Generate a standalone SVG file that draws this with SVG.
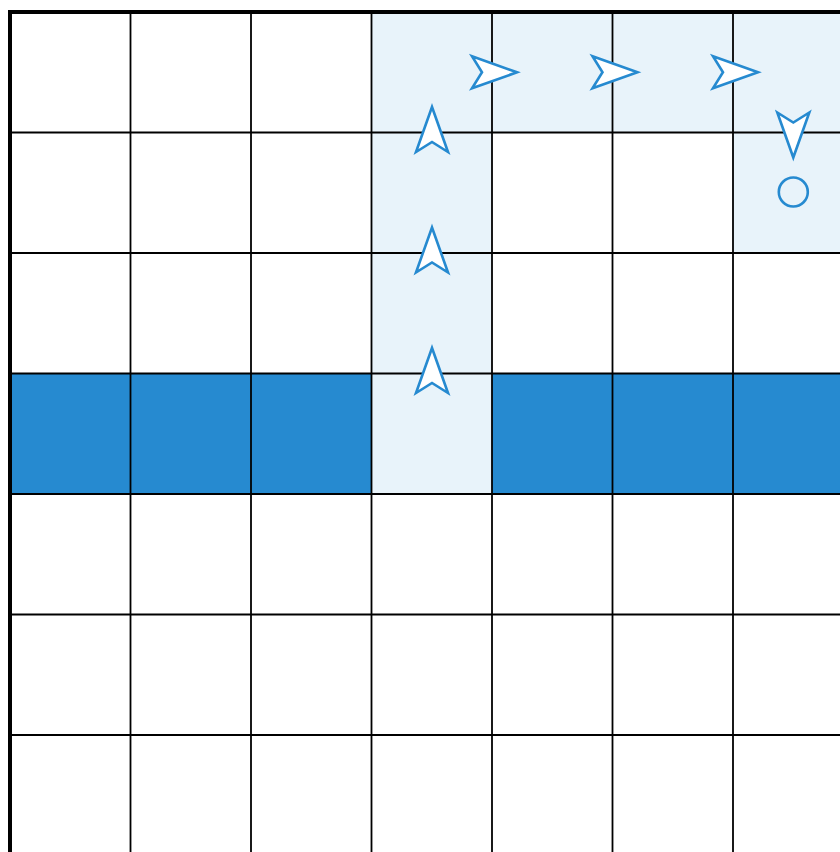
<svg xmlns="http://www.w3.org/2000/svg" width="840" height="852" viewBox="0 0 840 852">
<style>
.light{fill:#E8F3FA}
.dark{fill:#268AD0}
.grid line{stroke:#000;stroke-width:1.8}
.border{stroke:#000;stroke-width:4;fill:none}
.arrow{fill:#fff;stroke:#268AD0;stroke-width:2.6;stroke-linejoin:miter}
.goal{fill:none;stroke:#268AD0;stroke-width:2.6}
</style>
<defs>
<path id="arr" d="M25,0 L-20,-16 L-10,0 L-20,16 Z"/>
</defs>
<rect width="840" height="852" fill="#fff"/>
<g id="cells">
<rect class="light" x="371.5" y="12" width="120.5" height="482"/>
<rect class="light" x="492" y="12" width="348" height="120.5"/>
<rect class="light" x="733" y="132.5" width="107" height="120.5"/>
<rect class="dark" x="10" y="373.5" width="361.5" height="120.5"/>
<rect class="dark" x="492" y="373.5" width="348" height="120.5"/>
</g>
<g class="grid">
<line x1="130.5" y1="12" x2="130.5" y2="852"/>
<line x1="251" y1="12" x2="251" y2="852"/>
<line x1="371.5" y1="12" x2="371.5" y2="852"/>
<line x1="492" y1="12" x2="492" y2="852"/>
<line x1="612.5" y1="12" x2="612.5" y2="852"/>
<line x1="733" y1="12" x2="733" y2="852"/>
<line x1="10" y1="132.5" x2="840" y2="132.5"/>
<line x1="10" y1="253" x2="840" y2="253"/>
<line x1="10" y1="373.5" x2="840" y2="373.5"/>
<line x1="10" y1="494" x2="840" y2="494"/>
<line x1="10" y1="614.5" x2="840" y2="614.5"/>
<line x1="10" y1="735" x2="840" y2="735"/>
</g>
<path class="border" d="M10,852 L10,12 L840,12"/>
<g id="path">
<use href="#arr" class="arrow" transform="translate(432,132) rotate(-90)"/>
<use href="#arr" class="arrow" transform="translate(432,252.5) rotate(-90)"/>
<use href="#arr" class="arrow" transform="translate(432,373) rotate(-90)"/>
<use href="#arr" class="arrow" transform="translate(492,72.3)"/>
<use href="#arr" class="arrow" transform="translate(612.5,72.3)"/>
<use href="#arr" class="arrow" transform="translate(733,72.3)"/>
<use href="#arr" class="arrow" transform="translate(793.3,132.5) rotate(90)"/>
<circle class="goal" cx="793.3" cy="192" r="14.5"/>
</g>
</svg>
